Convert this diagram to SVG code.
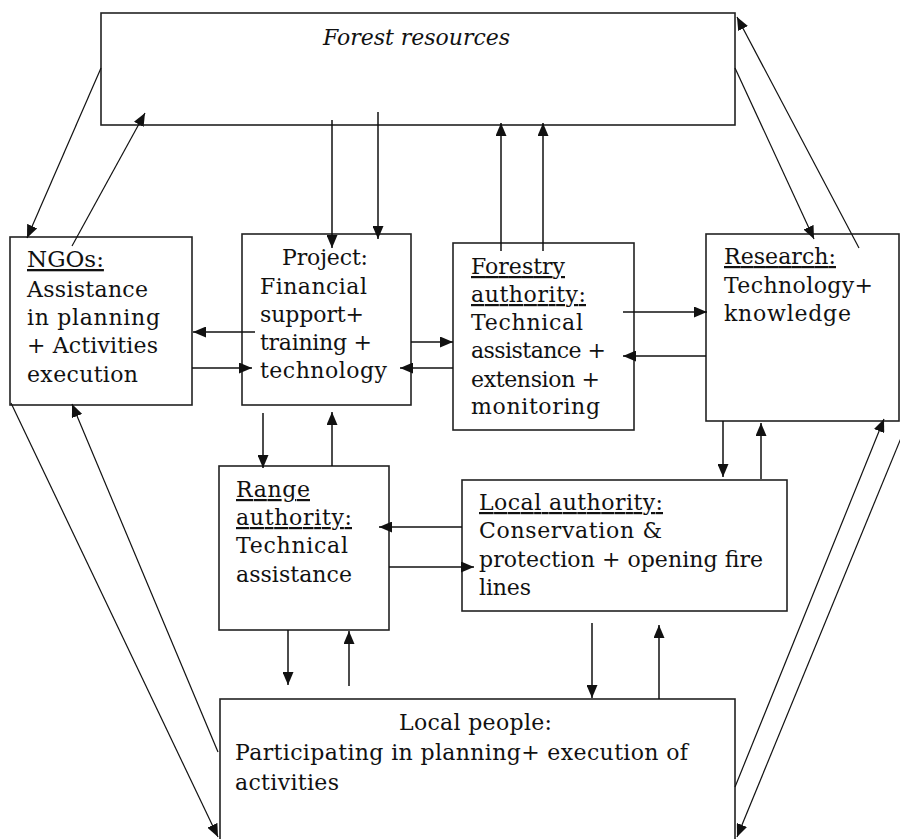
<svg xmlns="http://www.w3.org/2000/svg" width="900" height="839" viewBox="0 0 900 839">
<defs>
<marker id="ah" markerUnits="userSpaceOnUse" markerWidth="13" markerHeight="11" refX="13" refY="5.5" orient="auto">
<path d="M0,0 L13,5.5 L0,11 Z" fill="#111"/>
</marker>
<style>
.box{fill:#fff;stroke:#222;stroke-width:1.6}
.t{font-family:"DejaVu Serif","Liberation Serif",serif;font-size:22px;fill:#111}
.u{text-decoration:underline}
.c line{stroke:#111;stroke-width:1.5;marker-end:url(#ah)}
.c .d{stroke-width:1.2}
</style>
</defs>
<rect width="900" height="839" fill="#fff"/>

<g id="forest">
<rect class="box" x="101" y="13" width="634" height="112"/>
<text class="t" x="323" y="45" font-style="italic" font-size="20" textLength="187">Forest resources</text>
</g>

<g id="ngos">
<rect class="box" x="10" y="237" width="182" height="168"/>
<text class="t" x="27"><tspan class="u" x="27" y="267" font-size="23">NGOs:</tspan><tspan x="27" y="297" textLength="121">Assistance</tspan><tspan x="27" y="325" textLength="133">in planning</tspan><tspan x="27" y="353" textLength="131">+ Activities</tspan><tspan x="27" y="382" textLength="111">execution</tspan></text>
</g>

<g id="project">
<rect class="box" x="242" y="234" width="169" height="171"/>
<text class="t"><tspan x="282" y="265" textLength="86">Project:</tspan><tspan x="260" y="294" textLength="107">Financial</tspan><tspan x="260" y="322" textLength="104">support+</tspan><tspan x="260" y="350" textLength="112">training +</tspan><tspan x="260" y="378" textLength="127">technology</tspan></text>
</g>

<g id="forestry">
<rect class="box" x="453" y="243" width="181" height="187"/>
<text class="t"><tspan class="u" x="471" y="274" textLength="94">Forestry</tspan><tspan class="u" x="471" y="302" textLength="115">authority:</tspan><tspan x="471" y="330" textLength="112">Technical</tspan><tspan x="471" y="358" textLength="135">assistance +</tspan><tspan x="471" y="387" textLength="129">extension +</tspan><tspan x="471" y="414" textLength="129">monitoring</tspan></text>
</g>

<g id="research">
<rect class="box" x="706" y="234" width="193" height="187"/>
<text class="t"><tspan class="u" x="724" y="264" textLength="112">Research:</tspan><tspan x="724" y="293" textLength="149">Technology+</tspan><tspan x="724" y="321" textLength="127">knowledge</tspan></text>
</g>

<g id="range">
<rect class="box" x="219" y="466" width="170" height="164"/>
<text class="t"><tspan class="u" x="236" y="497" textLength="74">Range</tspan><tspan class="u" x="236" y="525" textLength="116">authority:</tspan><tspan x="236" y="553" textLength="112">Technical</tspan><tspan x="236" y="582" textLength="116">assistance</tspan></text>
</g>

<g id="local-authority">
<rect class="box" x="462" y="480" width="325" height="131"/>
<text class="t"><tspan class="u" x="479" y="510" textLength="184">Local authority:</tspan><tspan x="479" y="538" textLength="183">Conservation &amp;</tspan><tspan x="479" y="567" textLength="284">protection + opening fire</tspan><tspan x="479" y="595" textLength="52">lines</tspan></text>
</g>

<g id="local-people">
<rect class="box" x="220" y="699" width="515" height="150"/>
<text class="t" font-size="20"><tspan x="399" y="730" textLength="153">Local people:</tspan><tspan x="235" y="760" textLength="453">Participating in planning+ execution of</tspan><tspan x="235" y="790" textLength="104">activities</tspan></text>
</g>

<g id="connectors" class="c">
<line x1="332" y1="120" x2="332" y2="248"/>
<line x1="378" y1="112" x2="378" y2="239"/>
<line x1="501" y1="251" x2="501" y2="123"/>
<line x1="543" y1="251" x2="543" y2="123"/>
<line class="d" x1="101" y1="68" x2="27" y2="238"/>
<line class="d" x1="72" y1="246" x2="145" y2="113"/>
<line class="d" x1="735" y1="68" x2="814" y2="239"/>
<line class="d" x1="859" y1="248" x2="737" y2="17"/>
<line x1="255" y1="332" x2="193" y2="332"/>
<line x1="192" y1="368" x2="252" y2="368"/>
<line x1="411" y1="342" x2="453" y2="342"/>
<line x1="453" y1="368" x2="400" y2="368"/>
<line x1="623" y1="312" x2="707" y2="312"/>
<line x1="706" y1="356" x2="623" y2="356"/>
<line x1="263" y1="413" x2="263" y2="468"/>
<line x1="332" y1="466" x2="332" y2="412"/>
<line x1="723" y1="421" x2="723" y2="477"/>
<line x1="761" y1="479" x2="761" y2="423"/>
<line x1="462" y1="527" x2="379" y2="527"/>
<line x1="389" y1="567" x2="474" y2="567"/>
<line x1="288" y1="630" x2="288" y2="685"/>
<line x1="349" y1="686" x2="349" y2="631"/>
<line x1="592" y1="623" x2="592" y2="698"/>
<line x1="659" y1="699" x2="659" y2="625"/>
<line class="d" x1="11" y1="403" x2="218" y2="837"/>
<line class="d" x1="218" y1="752" x2="72" y2="404"/>
<line class="d" x1="735" y1="787" x2="884" y2="419"/>
<line class="d" x1="908" y1="421" x2="737" y2="837"/>
</g>
</svg>
